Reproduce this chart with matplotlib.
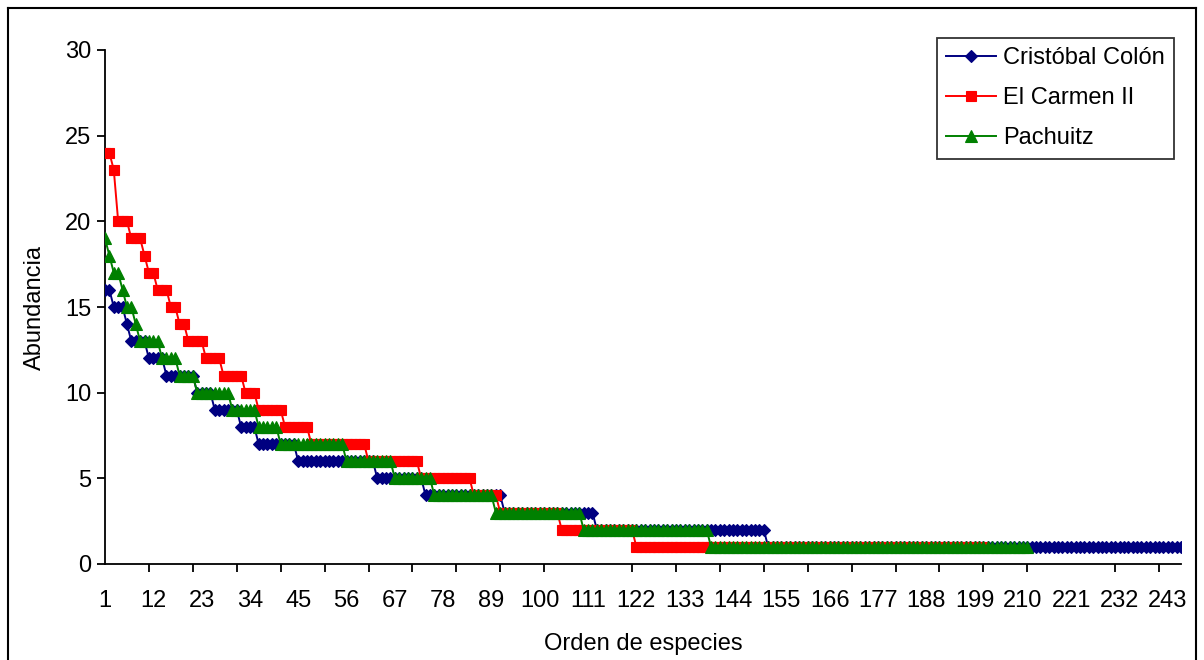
import numpy as np
import matplotlib
matplotlib.use("Agg")
import matplotlib.pyplot as plt
from matplotlib.lines import Line2D

plt.rcParams['font.family'] = ['Liberation Sans', 'DejaVu Sans']

# Run-length data: abundance level and number of species at that level
colon_levels = [16, 15, 14, 13, 12, 11, 10, 9, 8, 7, 6, 5, 4, 3, 2, 1]
colon_counts = [2, 3, 1, 4, 4, 7, 4, 6, 4, 9, 18, 11, 18, 21, 39, 95]

carmen_levels = [24, 23, 20, 19, 18, 17, 16, 15, 14, 13, 12, 11, 10, 9, 8, 7, 6, 5, 4, 3, 2, 1]
carmen_counts = [2, 1, 3, 3, 1, 2, 3, 2, 2, 4, 4, 5, 3, 6, 6, 13, 12, 12, 6, 14, 17, 80]

pach_levels = [19, 18, 17, 16, 15, 14, 13, 12, 11, 10, 9, 8, 7, 6, 5, 4, 3, 2, 1]
pach_counts = [1, 1, 2, 1, 2, 1, 5, 4, 4, 8, 6, 5, 15, 11, 9, 14, 20, 29, 73]

series_names = ["Cristóbal Colón", "El Carmen II", "Pachuitz"]
tick_labels = [str(v) for v in range(1, 246, 11)]
y_ticks = [0, 5, 10, 15, 20, 25, 30]

colon = np.repeat(colon_levels, colon_counts)
carmen = np.repeat(carmen_levels, carmen_counts)
pach = np.repeat(pach_levels, pach_counts)

FS = 17
W, H = 1204, 660
fig = plt.figure(figsize=(W / 100, H / 100), dpi=100)
ax_l, ax_r, ax_t, ax_b = 105, 1181, 50, 564
ax = fig.add_axes([ax_l / W, 1 - ax_b / H, (ax_r - ax_l) / W, (ax_b - ax_t) / H])

lw = 1.4
ax.plot(np.arange(1, len(colon) + 1), colon, color='#000080', marker='D', ms=6.5,
        mew=0.8, lw=lw, label=series_names[0], zorder=3)
ax.plot(np.arange(1, len(carmen) + 1), carmen, color='#FF0000', marker='s', ms=7.4,
        mew=0.8, lw=lw, label=series_names[1], zorder=4)
ax.plot(np.arange(1, len(pach) + 1), pach, color='#008000', marker='^', ms=8.7,
        mew=0.8, lw=lw, label=series_names[2], zorder=5)

ax.set_xlim(1, 246)
ax.set_ylim(0, 30)
ax.spines['top'].set_visible(False)
ax.spines['right'].set_visible(False)
for s in ('left', 'bottom'):
    ax.spines[s].set_linewidth(1.3)
    ax.spines[s].set_color('black')

label_pos = [int(t) for t in tick_labels]
ax.set_xticks(label_pos)
ax.set_xticklabels(tick_labels, fontsize=FS)
ax.tick_params(axis='x', which='major', length=0, pad=19)
ax.set_xticks(np.arange(1, 246, 10), minor=True)
ax.tick_params(axis='x', which='minor', length=6, width=1.3, direction='out')

ax.set_yticks(y_ticks)
ax.set_yticklabels([str(v) for v in y_ticks], fontsize=FS)
ax.tick_params(axis='y', length=6, width=1.3, direction='out', pad=4)

ax.set_ylabel("Abundancia", fontsize=FS)
ax.set_xlabel("Orden de especies", fontsize=FS)
ax.yaxis.set_label_coords(-(ax_l - 46) / (ax_r - ax_l), 0.5)
ax.xaxis.set_label_coords(0.5, -(633 - ax_b) / (ax_b - ax_t))

leg = fig.legend(loc='upper left', bbox_to_anchor=(937 / W, 1 - 38 / H), fontsize=FS,
                 frameon=True, fancybox=False, edgecolor='black', handlelength=2.1,
                 handletextpad=0.3, labelspacing=0.76, borderpad=0.4, borderaxespad=0)
leg.get_frame().set_linewidth(1.3)

# chart-area border
fig.add_artist(Line2D([8 / W, 8 / W], [0, 1 - 8 / H], color='black', lw=1.5))
fig.add_artist(Line2D([8 / W, 1 - 8 / W], [1 - 8 / H, 1 - 8 / H], color='black', lw=1.5))
fig.add_artist(Line2D([1 - 8 / W, 1 - 8 / W], [0, 1 - 8 / H], color='black', lw=1.5))

fig.savefig("out.png", dpi=100)
